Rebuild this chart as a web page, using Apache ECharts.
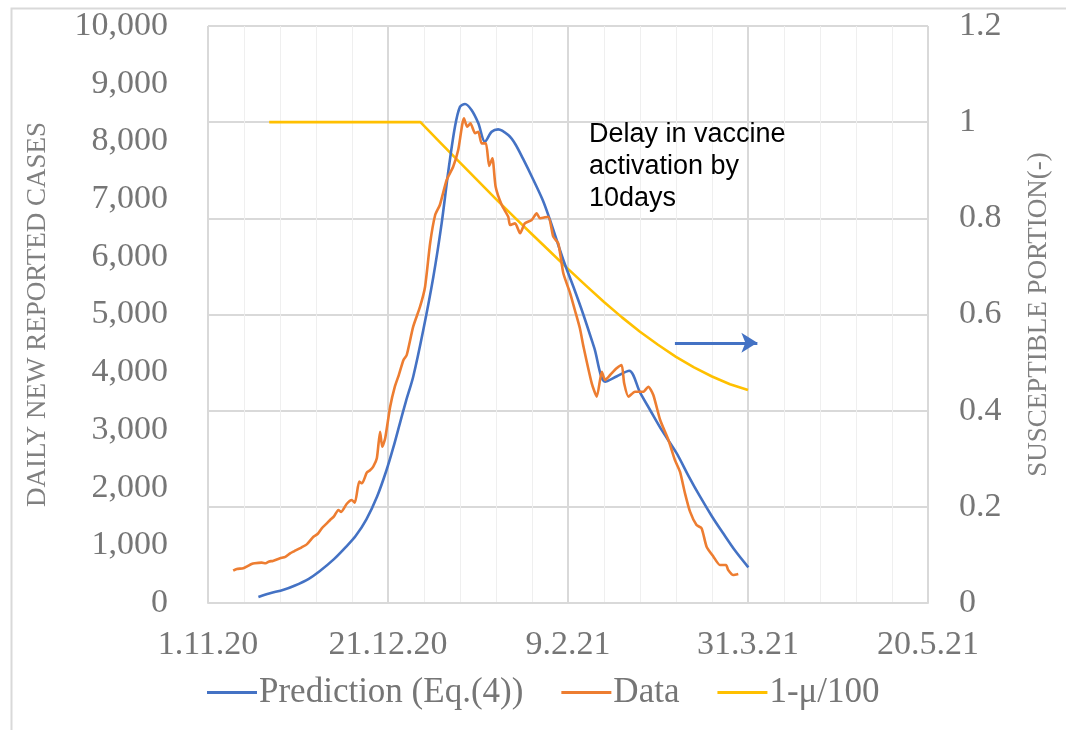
<!DOCTYPE html>
<html>
<head>
<meta charset="utf-8">
<script src="https://cdn.jsdelivr.net/npm/echarts@6/dist/echarts.min.js"></script>
<style>
html,body{margin:0;padding:0;background:#fff;}
#chart{width:1066px;height:730px;}
</style>
</head>
<body>
<div id="chart"></div>
<script>
// x values are days counted from 1.11.20
const xTickLabels = ['1.11.20', '21.12.20', '9.2.21', '31.3.21', '20.5.21'];

const predDays = [14, 17, 21, 24, 28, 31, 35, 38, 41, 44, 47, 49.6, 51.5, 53.3, 55, 57, 59.8, 62.6, 64.9, 66.8, 68.6, 70, 71.4, 73.2, 75.1, 76.9, 78.8, 80.6, 83.4, 85.3, 87.5, 90.4, 93, 95, 98.7, 101.5, 104.3, 107.3, 110.3, 113.6, 117, 120, 122.8, 126, 130.2, 133.5, 136.7, 140, 143.1, 146.5, 150.1];
const predCases = [105, 165, 230, 300, 420, 550, 760, 950, 1160, 1450, 1850, 2305, 2700, 3114, 3500, 3922, 4731, 5655, 6580, 7504, 8255, 8601, 8648, 8544, 8313, 7995, 8168, 8209, 8110, 7960, 7700, 7331, 6980, 6638, 5945, 5480, 4992, 4420, 3836, 3930, 4026, 3650, 3345, 3000, 2594, 2200, 1842, 1500, 1208, 900, 618];

const dataDays = [7, 8, 9.8, 11, 12.1, 13, 14.9, 16, 17, 18, 20, 21.5, 22.8, 24, 26, 27.5, 29.3, 30.5, 31.6, 33, 33.9, 35, 36.2, 37, 38.5, 39.9, 40.8, 42, 42.8, 44.1, 45, 45.9, 46.9, 47.8, 48.4, 49.2, 50.6, 51.9, 53, 54.3, 55.2, 57, 58.9, 60.3, 61.7, 63.1, 64.4, 66.3, 68.1, 69.5, 71.1, 72, 72.9, 74.2, 75.1, 76, 77.2, 78.1, 79, 79.9, 81.6, 83.4, 83.9, 85.3, 86.7, 88, 89.9, 91.3, 92.2, 94.5, 95.9, 97.3, 98.7, 100.6, 101.9, 103.3, 104.3, 106.6, 108, 109.4, 110.3, 111.7, 113.5, 114.9, 115.6, 116.8, 118.6, 120.9, 122.3, 123.7, 125.6, 127.9, 129.7, 131.1, 132.5, 133.9, 135.7, 137.1, 138.5, 140.4, 142.2, 143.9, 144.5, 145.9, 147.3];
const dataCases = [560, 590, 601, 640, 676, 690, 699, 690, 720, 730, 775, 800, 861, 900, 965, 1020, 1149, 1200, 1295, 1380, 1438, 1500, 1612, 1580, 1716, 1785, 1738, 2103, 2075, 2259, 2300, 2363, 2507, 2969, 2709, 2850, 3402, 3749, 3950, 4211, 4298, 4789, 5135, 5482, 6234, 6724, 6898, 7331, 7562, 7851, 8400, 8255, 8313, 8140, 8168, 7966, 7966, 7574, 7707, 7215, 6898, 6695, 6551, 6580, 6407, 6580, 6638, 6754, 6667, 6695, 6349, 6234, 5714, 5368, 5078, 4761, 4443, 3807, 3576, 4009, 3865, 3951, 4067, 4125, 3807, 3576, 3662, 3662, 3749, 3605, 3171, 2825, 2478, 2276, 1901, 1583, 1352, 1295, 976, 803, 659, 659, 572, 485, 503];

const ratioDays = [17, 59, 65, 70, 75, 80, 85, 90, 95, 100, 105, 110, 115, 120, 125, 130, 135, 140, 145, 150];
const ratioValues = [1, 1, 0.954, 0.916, 0.878, 0.840, 0.803, 0.767, 0.731, 0.695, 0.660, 0.626, 0.594, 0.564, 0.537, 0.512, 0.490, 0.471, 0.455, 0.443];

const seriesNames = ['Prediction (Eq.(4))', 'Data', '1-\u03bc/100'];
const annotationText = 'Delay in vaccine\nactivation by\n10days';
const arrowFrom = [129.7, 0.541];
const arrowTo = [152.6, 0.541];

const zip = (a, b) => a.map((v, i) => [v, b[i]]);

const chart = echarts.init(document.getElementById('chart'), null, {renderer: 'canvas'});
const serif = 'Liberation Serif';
const tickColor = '#767676';
const gridColor = '#d9d9d9';

chart.setOption({
  animation: false,
  backgroundColor: '#fff',
  grid: {left: 208, right: 138, top: 26, bottom: 127, containLabel: false},
  xAxis: {
    type: 'value', min: 0, max: 200, interval: 50,
    axisLine: {show: true, lineStyle: {color: gridColor, width: 2}},
    axisTick: {show: false},
    axisLabel: {
      fontFamily: serif, fontSize: 34, color: tickColor, margin: 25,
      formatter: v => xTickLabels[Math.round(v / 50)] || ''
    },
    splitLine: {show: true, lineStyle: {color: gridColor, width: 2}},
    minorTick: {show: false, splitNumber: 5},
    minorSplitLine: {show: true, lineStyle: {color: '#efefef', width: 1}}
  },
  yAxis: [
    {
      type: 'value', min: 0, max: 10000, interval: 1000, position: 'left',
      name: 'DAILY NEW REPORTED CASES', nameLocation: 'middle', nameGap: 157, nameRotate: 90,
      nameTextStyle: {fontFamily: serif, fontSize: 27, color: '#808080'},
      axisLine: {show: false}, axisTick: {show: false},
      axisLabel: {fontFamily: serif, fontSize: 34, color: tickColor, margin: 40,
        formatter: v => v.toLocaleString('en-US')},
      splitLine: {show: false}
    },
    {
      type: 'value', min: 0, max: 1.2, interval: 0.2, position: 'right',
      name: 'SUSCEPTIBLE PORTION(-)', nameLocation: 'middle', nameGap: 97, nameRotate: 90,
      nameTextStyle: {fontFamily: serif, fontSize: 27, color: '#808080'},
      axisLine: {show: false}, axisTick: {show: false},
      axisLabel: {fontFamily: serif, fontSize: 34, color: tickColor, margin: 31,
        formatter: v => String(Math.round(v * 10) / 10)},
      splitLine: {show: true, lineStyle: {color: gridColor, width: 2}}
    }
  ],
  legend: {
    left: 202, top: 670, itemWidth: 50, itemHeight: 3, itemGap: 38, icon: 'rect',
    textStyle: {fontFamily: serif, fontSize: 35, color: tickColor, padding: [0, 0, 0, -3]},
    data: seriesNames
  },
  series: [
    {
      name: seriesNames[0], type: 'line', yAxisIndex: 0, data: zip(predDays, predCases),
      showSymbol: false, smooth: 0.3, color: '#4472C4', lineStyle: {width: 2.6, color: '#4472C4'}, z: 3
    },
    {
      name: seriesNames[1], type: 'line', yAxisIndex: 0, data: zip(dataDays, dataCases),
      showSymbol: false, smooth: 0.2, color: '#ED7D31', lineStyle: {width: 2.6, color: '#ED7D31'}, z: 4
    },
    {
      name: seriesNames[2], type: 'line', yAxisIndex: 1, data: zip(ratioDays, ratioValues),
      showSymbol: false, smooth: false, color: '#FFC000', lineStyle: {width: 2.6, color: '#FFC000', join: 'round'}, z: 2,
      markLine: {
        silent: true, symbol: ['none', 'arrow'], symbolSize: [15, 16],
        label: {show: false},
        lineStyle: {color: '#4472C4', width: 3, type: 'solid'},
        emphasis: {disabled: true},
        data: [[{coord: arrowFrom}, {coord: arrowTo}]]
      }
    }
  ],
  graphic: [
    {
      type: 'rect', left: 9, top: 6, silent: true, z: -10,
      shape: {x: 0, y: 0, width: 1200, height: 900},
      style: {fill: 'none', stroke: gridColor, lineWidth: 2}
    },
    {
      type: 'text', left: 589, top: 119, silent: true, z: 10,
      style: {text: annotationText, fontFamily: 'Liberation Sans', fontSize: 27, lineHeight: 32, fill: '#000'}
    }
  ]
});
</script>
</body>
</html>
